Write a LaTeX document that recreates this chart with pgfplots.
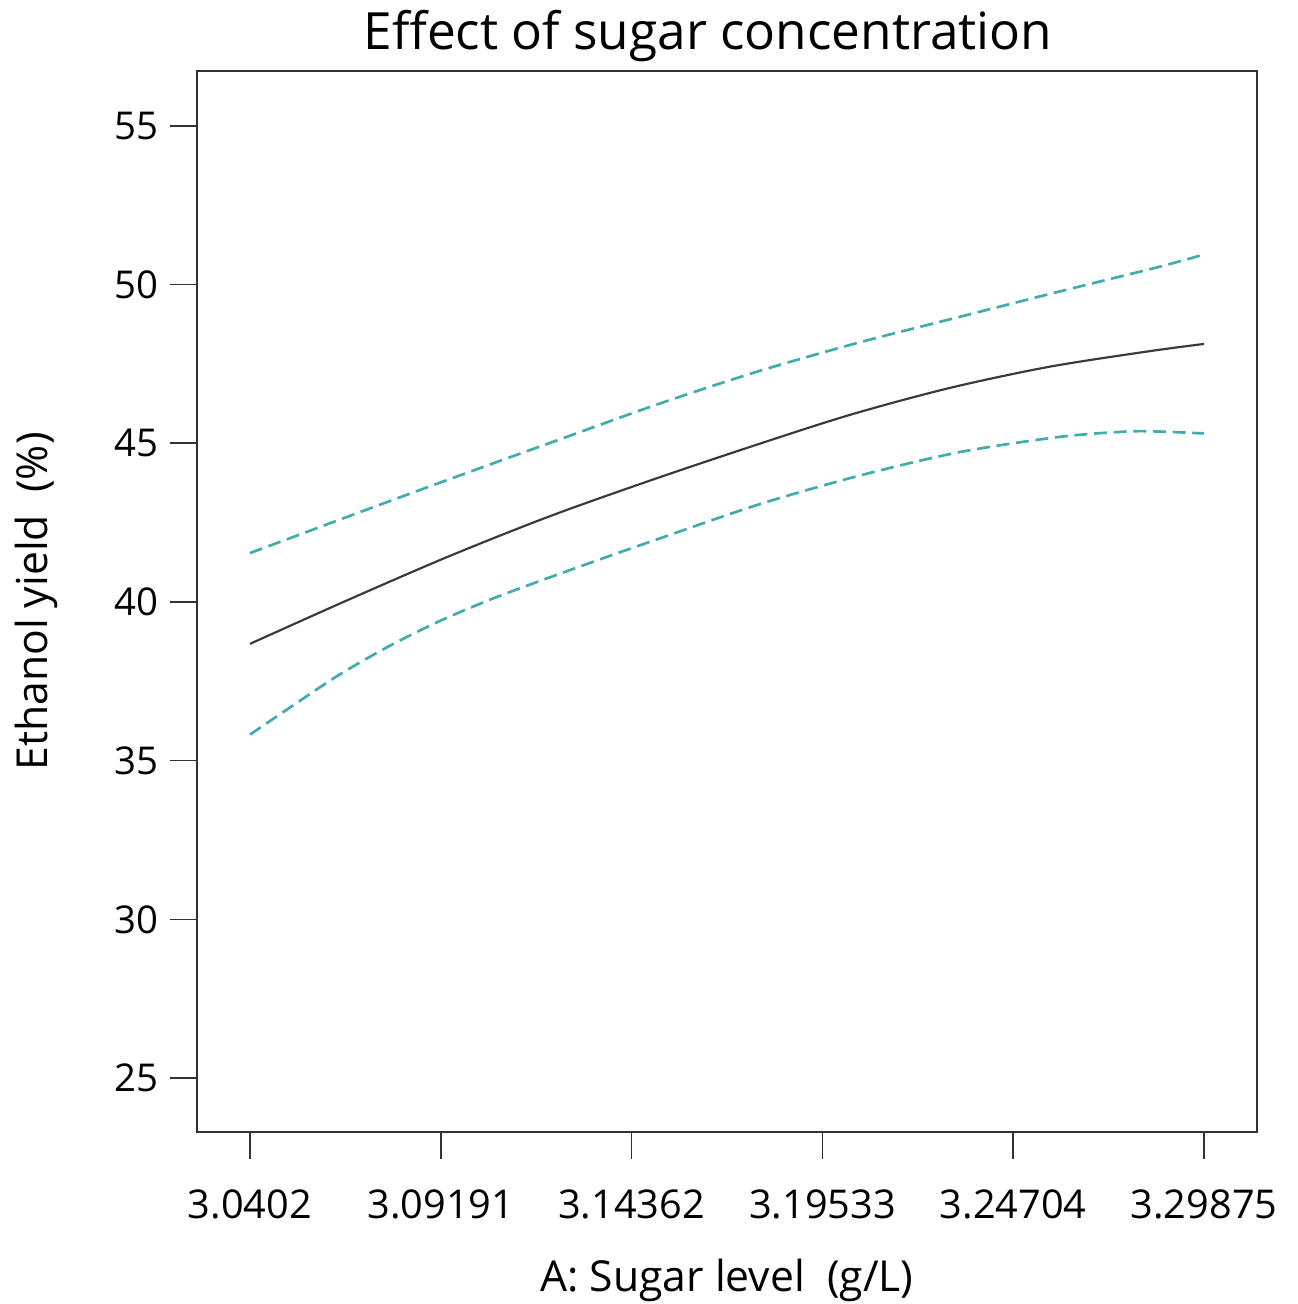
\documentclass[border=0pt]{standalone}
\usepackage{pgfplots}
\pgfplotsset{compat=1.18}
\usepackage{fontspec}
\setmainfont{Open Sans}

\definecolor{ciband}{RGB}{64,172,172}
\definecolor{fitline}{RGB}{58,58,58}
\definecolor{frame}{RGB}{50,50,50}

% Predicted ethanol yield and its 95% confidence band
\pgfplotstableread{
x        y
3.0402   38.68
3.06727  40.09
3.09435  41.45
3.12142  42.70
3.14849  43.82
3.17556  44.88
3.20264  45.89
3.22971  46.74
3.25678  47.41
3.28386  47.90
3.29875  48.13
}\fitdata
\pgfplotstableread{
x        y
3.0402   41.54
3.0781   43.18
3.1052   44.33
3.1241   45.12
3.1512   46.25
3.1783   47.28
3.2054   48.18
3.2324   48.98
3.2595   49.78
3.2866   50.56
3.29875  50.95
}\upperdata
\pgfplotstableread{
x        y
3.0402   35.82
3.05238  36.78
3.06457  37.72
3.07810  38.62
3.09164  39.40
3.10518  40.07
3.11871  40.66
3.13766  41.45
3.15120  42.00
3.17827  43.08
3.20534  43.98
3.23242  44.72
3.25949  45.20
3.27763  45.37
3.28656  45.37
3.29875  45.31
}\lowerdata

\begin{document}
\begin{tikzpicture}
\begin{axis}[
  scale only axis,
  width=318pt, height=318.3pt,
  xmin=3.02585, xmax=3.3131,
  ymin=23.30, ymax=56.73,
  xtick={3.0402,3.09191,3.14362,3.19533,3.24704,3.29875},
  xticklabels={3.0402,3.09191,3.14362,3.19533,3.24704,3.29875},
  ytick={25,30,35,40,45,50,55},
  tick pos=left,
  tick align=outside,
  major tick length=8pt,
  every tick/.style={frame, line width=0.5pt},
  axis line style={frame, line width=0.7pt},
  /pgf/number format/assume math mode=true,
  tick label style={font=\fontsize{11.5}{13}\selectfont, text=black},
  xticklabel style={yshift=-5.8pt, font=\fontsize{11.9}{13}\selectfont},
  xlabel={A: Sugar level\ \ (g/L)},
  ylabel={Ethanol yield\ \ (\%)},
  label style={font=\fontsize{12.8}{14}\selectfont, text=black},
  xlabel style={at={(axis description cs:0.5,0)}, anchor=center, yshift=-44.5pt},
  ylabel style={at={(axis description cs:0,0.5)}, anchor=center, yshift=48.3pt},
  title={Effect of sugar concentration},
  title style={at={(axis description cs:0.5,1)}, anchor=center, yshift=4.6pt, xshift=-5.7pt,
    font=\fontsize{15.4}{17}\selectfont, text=black},
  clip=false,
]
\addplot[ciband, line width=0.8pt, dash pattern=on 3.9pt off 2pt, smooth] table {\upperdata};
\addplot[ciband, line width=0.8pt, dash pattern=on 3.9pt off 2pt, smooth] table {\lowerdata};
\addplot[fitline, line width=0.65pt, smooth] table {\fitdata};
\coordinate (sw) at (rel axis cs:0,0);
\coordinate (ne) at (rel axis cs:1,1);
\end{axis}
\pgfresetboundingbox
\path[use as bounding box] ([shift={(-59.1pt,-51.6pt)}]sw) rectangle ([shift={(12.3pt,21.3pt)}]ne);
\end{tikzpicture}
\end{document}
